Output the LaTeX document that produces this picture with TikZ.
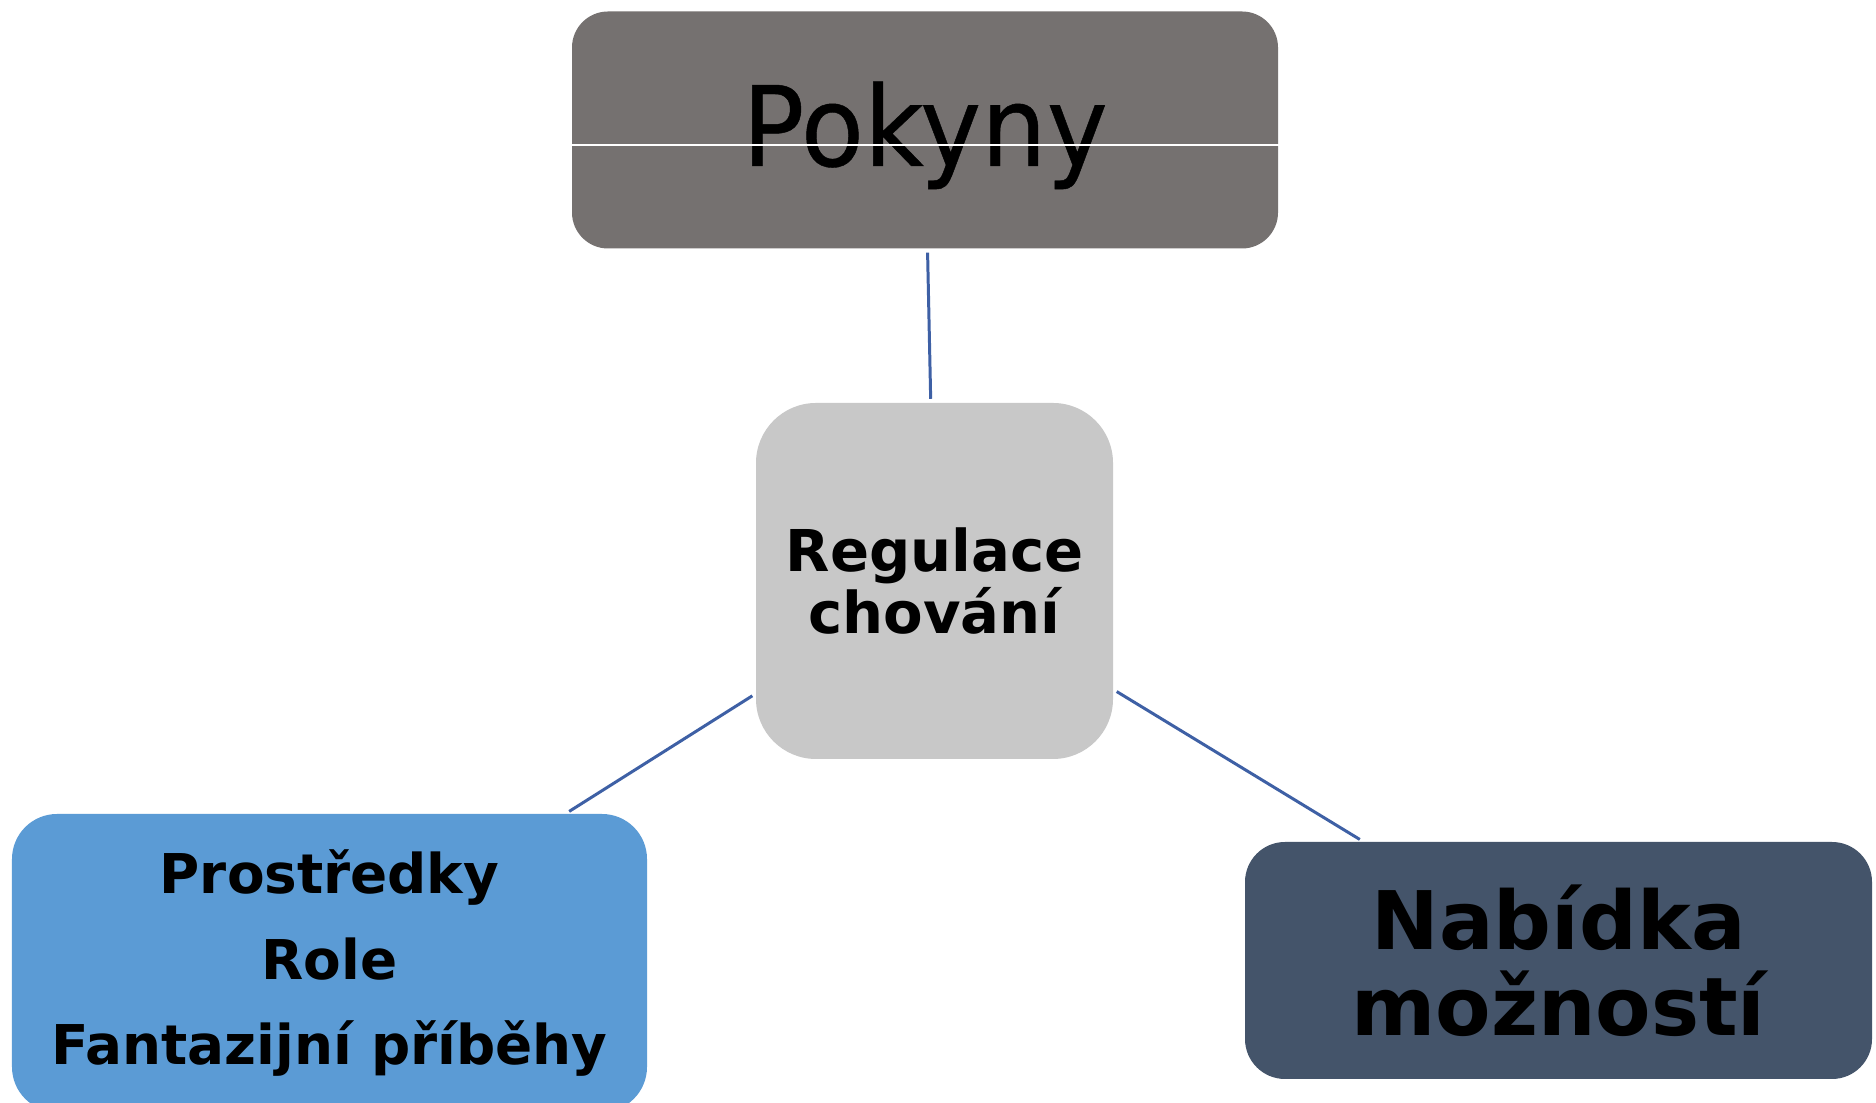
\documentclass[tikz,border=0pt]{standalone}
\usepackage{fontspec}
\usepackage{tikz}
\setmainfont{DejaVu Sans}
\newfontfamily\pokfont[FakeStretch=0.93,FakeBold=0.4]{DejaVu Sans}
\definecolor{pokgray}{RGB}{117,113,112}
\definecolor{reggray}{RGB}{200,200,200}
\definecolor{problue}{RGB}{91,155,213}
\definecolor{nabslate}{RGB}{68,84,106}
\definecolor{linkblue}{RGB}{62,96,165}

\begin{document}
\begin{tikzpicture}[
	box/.style={inner sep=0pt, align=center, text=black},
	link/.style={linkblue, line width=0.85pt, shorten <=1pt, shorten >=1pt}]
	\useasboundingbox[fill=white] (0,0) rectangle (18.76,11.03);
	\node[box, fill=pokgray, rounded corners=0.36cm, minimum width=7.06cm, minimum height=2.37cm, text height=0.98cm, text depth=0.26cm, font=\pokfont\fontsize{31.6}{34}\selectfont] (pok) at (9.25,9.73) {Pokyny};
	\node[box, fill=reggray, rounded corners=0.6cm, minimum width=3.57cm, minimum height=3.56cm, font=\bfseries\fontsize{16.4}{17.7}\selectfont] (reg) at (9.345,5.22) {Regulace\\chování};
	\node[box, fill=problue, rounded corners=0.45cm, minimum width=6.35cm, minimum height=2.98cm, font=\bfseries\fontsize{15.6}{24.2}\selectfont] (pro) at (3.295,1.40) {Prostředky\\Role\\Fantazijní příběhy};
	\node[box, fill=nabslate, rounded corners=0.4cm, minimum width=6.27cm, minimum height=2.37cm, font=\bfseries\fontsize{23}{24.5}\selectfont] (nab) at (15.585,1.425) {Nabídka\\možností};
	\draw[white, line width=0.4pt] ([yshift=-0.15cm]pok.west) -- ([yshift=-0.15cm]pok.east);
	\draw[link] (pok) -- (reg);
	\draw[link] (reg) -- (pro);
	\draw[link] (reg) -- (nab);
\end{tikzpicture}
\end{document}
